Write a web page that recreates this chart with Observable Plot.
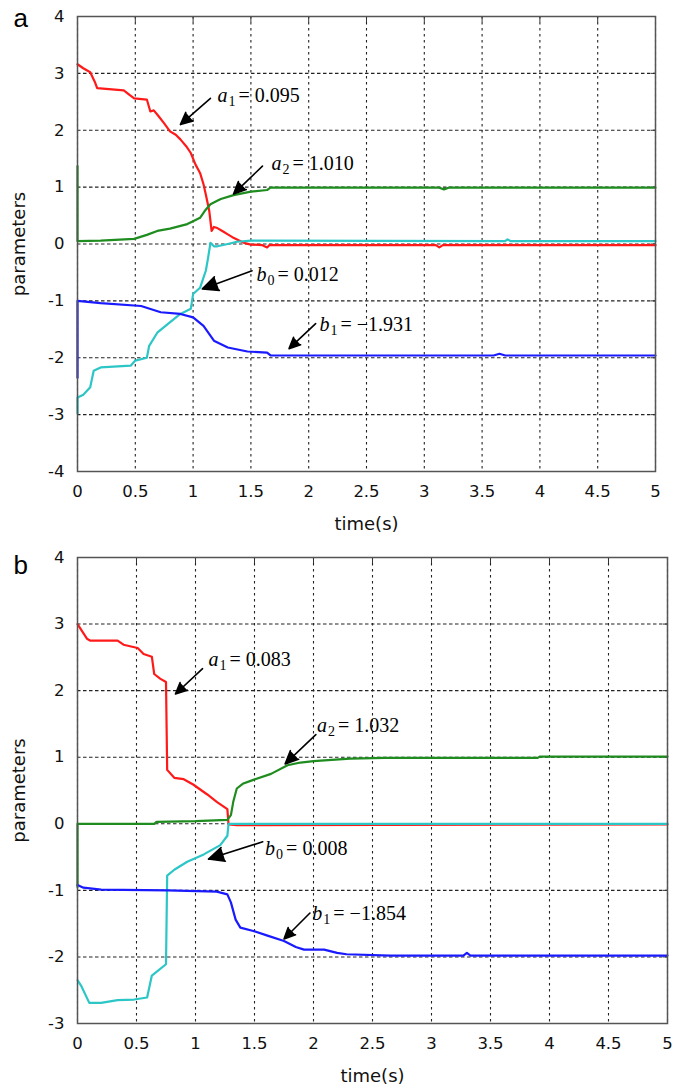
<!DOCTYPE html>
<html>
<head>
<meta charset="utf-8">
<script src="https://cdn.jsdelivr.net/npm/d3@7"></script>
<script src="https://cdn.jsdelivr.net/npm/@observablehq/plot@0.6"></script>
<style>
  html, body { margin: 0; padding: 0; background: #fff; }
  #wrap { position: relative; width: 674px; height: 1091px; }
  #pa { position: absolute; left: 0; top: 0; }
  #pb { position: absolute; left: 0; top: 540px; }
  svg { overflow: visible; }
  g[aria-label="x-axis label"] text, g[aria-label="y-axis label"] text { font-size: 18px; }
  g[aria-label="x-axis tick label"] text, g[aria-label="y-axis tick label"] text { font-size: 16.5px; }
</style>
</head>
<body>
<div id="wrap"><div id="pa"></div><div id="pb"></div></div>
<script>
// ---------- shared ----------
const seriesNames = ["a1", "a2", "b0", "b1"];
const seriesColors = ["#ff1a1a", "#1e8c1e", "#2cc6c6", "#1a1aff"];
const xTicks = [0, 0.5, 1, 1.5, 2, 2.5, 3, 3.5, 4, 4.5, 5];
const yTicksA = [-4, -3, -2, -1, 0, 1, 2, 3, 4];
const yTicksB = [-3, -2, -1, 0, 1, 2, 3, 4];
const xLabel = "time(s)";
const yLabel = "parameters";

// ---------- panel a data ----------
const aT_a1 = [0, 0.05, 0.11, 0.15, 0.17, 0.40, 0.45, 0.49, 0.60, 0.63, 0.66, 0.70, 0.75, 0.80, 0.85, 0.89, 0.94, 0.98, 1.02, 1.06, 1.09, 1.11, 1.14, 1.16, 1.18, 1.21, 1.26, 1.30, 1.34, 1.38, 1.44, 1.50, 1.60, 1.64, 1.66, 1.70, 3.10, 3.13, 3.16, 5.0];
const aV_a1 = [3.16, 3.09, 3.02, 2.85, 2.74, 2.70, 2.62, 2.56, 2.54, 2.33, 2.35, 2.25, 2.12, 1.98, 1.92, 1.84, 1.72, 1.60, 1.40, 1.25, 1.05, 0.87, 0.58, 0.23, 0.30, 0.28, 0.22, 0.17, 0.12, 0.08, 0.02, -0.01, -0.02, -0.06, -0.02, -0.02, -0.02, -0.06, -0.02, -0.02];
const aT_a2 = [0, 0, 0.2, 0.49, 0.6, 0.69, 0.8, 0.95, 1.0, 1.06, 1.10, 1.15, 1.2, 1.24, 1.35, 1.5, 1.64, 1.67, 3.13, 3.17, 3.21, 5];
const aV_a2 = [1.37, 0.05, 0.06, 0.09, 0.16, 0.23, 0.27, 0.35, 0.40, 0.46, 0.58, 0.70, 0.75, 0.79, 0.86, 0.92, 0.95, 0.99, 0.99, 0.96, 0.99, 0.99];
const aT_b0 = [0, 0, 0.05, 0.11, 0.14, 0.2, 0.46, 0.5, 0.6, 0.62, 0.69, 0.78, 0.89, 0.98, 1.0, 1.06, 1.11, 1.13, 1.15, 1.18, 1.21, 1.3, 1.38, 1.5, 3.7, 3.72, 3.75, 5];
const aV_b0 = [-2.98, -2.70, -2.65, -2.52, -2.23, -2.17, -2.14, -2.05, -2.0, -1.79, -1.56, -1.41, -1.23, -1.14, -0.88, -0.77, -0.47, -0.24, 0.02, -0.04, -0.04, 0.0, 0.04, 0.06, 0.05, 0.08, 0.05, 0.05];
const aT_b1 = [0, 0, 0.2, 0.55, 0.72, 0.89, 1.0, 1.09, 1.18, 1.3, 1.47, 1.64, 1.67, 3.6, 3.65, 3.7, 5];
const aV_b1 = [-2.35, -1.0, -1.04, -1.09, -1.2, -1.23, -1.29, -1.44, -1.70, -1.82, -1.89, -1.91, -1.96, -1.96, -1.93, -1.96, -1.96];

// panel a annotations
const annA_sym = ["a", "a", "b", "b"];
const annA_sub = ["1", "2", "0", "1"];
const annA_val = ["= 0.095", "= 1.010", "= 0.012", "= \u22121.931"];
const annA_tx = [1.211, 1.678, 1.548, 2.093];
const annA_ty = [2.50, 1.30, -0.65, -1.53];
const arrA_x1 = [1.15, 1.60, 1.51, 2.06];
const arrA_y1 = [2.56, 1.37, -0.47, -1.40];
const arrA_x2 = [0.89, 1.35, 1.08, 1.83];
const arrA_y2 = [2.10, 0.88, -0.79, -1.84];

// ---------- panel b data ----------
const bT_a1 = [0, 0.08, 0.11, 0.34, 0.39, 0.51, 0.56, 0.63, 0.65, 0.70, 0.75, 0.76, 0.82, 0.90, 0.98, 1.10, 1.18, 1.27, 1.28, 1.35, 5];
const bV_a1 = [3.0, 2.78, 2.75, 2.75, 2.69, 2.64, 2.55, 2.51, 2.25, 2.18, 2.13, 0.81, 0.69, 0.67, 0.59, 0.44, 0.33, 0.22, -0.01, -0.02, -0.01];
const bT_a2 = [0, 0, 0.65, 0.67, 1.0, 1.27, 1.30, 1.32, 1.35, 1.40, 1.49, 1.64, 1.78, 1.89, 2.0, 2.31, 2.6, 3.9, 3.92, 5];
const bV_a2 = [-0.95, 0.0, 0.0, 0.03, 0.04, 0.06, 0.13, 0.33, 0.53, 0.60, 0.66, 0.75, 0.88, 0.92, 0.94, 0.98, 0.99, 0.99, 1.01, 1.01];
const bT_b0 = [0, 0.03, 0.1, 0.2, 0.34, 0.48, 0.59, 0.63, 0.68, 0.75, 0.76, 0.82, 0.93, 1.07, 1.21, 1.27, 1.28, 5];
const bV_b0 = [-2.35, -2.43, -2.69, -2.69, -2.65, -2.64, -2.61, -2.28, -2.21, -2.11, -0.78, -0.69, -0.57, -0.46, -0.32, -0.18, 0.0, 0.0];
const bT_b1 = [0, 0.05, 0.2, 0.76, 1.18, 1.27, 1.3, 1.34, 1.38, 1.49, 1.61, 1.75, 1.85, 1.92, 2.09, 2.2, 2.28, 2.65, 3.27, 3.3, 3.33, 5];
const bV_b1 = [-0.92, -0.96, -0.99, -1.0, -1.02, -1.06, -1.18, -1.44, -1.56, -1.61, -1.68, -1.76, -1.85, -1.89, -1.89, -1.94, -1.96, -1.98, -1.98, -1.94, -1.98, -1.98];

// panel b annotations
const annB_sym = ["a", "a", "b", "b"];
const annB_sub = ["1", "2", "0", "1"];
const annB_val = ["= 0.083", "= 1.032", "= 0.008", "= \u22121.854"];
const annB_tx = [1.11, 2.03, 1.59, 1.99];
const annB_ty = [2.37, 1.38, -0.47, -1.44];
const arrB_x1 = [1.06, 2.02, 1.57, 1.97];
const arrB_y1 = [2.33, 1.34, -0.27, -1.34];
const arrB_x2 = [0.83, 1.76, 1.11, 1.75];
const arrB_y2 = [1.95, 0.90, -0.53, -1.73];

// ---------- builders ----------
function rows(t, v, s) { return t.map((x, i) => ({t: x, v: v[i], s})); }

const sans = "DejaVu Sans";
const serif = "Liberation Serif";

function panel({lines, yDomain, yTicks, mt, mb, mr, height, letter, letterDy, sym, sub, val, tx, ty, x1, y1, x2, y2}) {
  const idx = sym.map((_, i) => i);
  return Plot.plot({
    width: 674,
    height,
    marginLeft: 77,
    marginRight: mr,
    marginTop: mt,
    marginBottom: mb,
    style: {fontFamily: sans, fontSize: "16px", color: "#111", background: "#fff"},
    x: {domain: [0, 5]},
    y: {domain: yDomain},
    color: {domain: seriesNames, range: seriesColors},
    marks: [
      Plot.gridX(xTicks, {stroke: "#222", strokeOpacity: 1, strokeDasharray: "2.5,3.5", strokeWidth: 1.1}),
      Plot.gridY(yTicks, {stroke: "#222", strokeOpacity: 1, strokeDasharray: "3.5,2.5", strokeWidth: 1.1}),
      Plot.axisX(xTicks, {anchor: "bottom", tickSize: 0, tickPadding: 14, tickFormat: d => String(d), fontSize: 16.5,
        label: xLabel, labelAnchor: "center", labelArrow: "none", labelOffset: 58.5}),
      Plot.axisX(xTicks, {anchor: "top", tickSize: -5, tickFormat: () => "", label: null, stroke: "#333"}),
      Plot.axisY(yTicks, {anchor: "left", tickSize: 0, tickPadding: 13, tickFormat: d => String(d), fontSize: 16.5,
        label: yLabel, labelAnchor: "center", labelArrow: "none", labelOffset: 65}),
      Plot.axisY(yTicks, {anchor: "right", tickSize: -5, tickFormat: () => "", label: null, stroke: "#333"}),
      Plot.line(lines, {x: "t", y: "v", z: "s", stroke: "s", strokeWidth: 2.2, curve: "linear"}),
      Plot.frame({stroke: "#555", strokeWidth: 1.5}),
      Plot.arrow(idx, {x1: i => x1[i], y1: i => y1[i], x2: i => x2[i], y2: i => y2[i],
        stroke: "#000", fill: "#000", strokeWidth: 1.6, headLength: 16, headAngle: 50}),
      Plot.text(idx, {x: i => tx[i], y: i => ty[i], text: i => sym[i], textAnchor: "start", lineAnchor: "bottom",
        fontFamily: serif, fontStyle: "italic", fontSize: 20, fill: "#000"}),
      Plot.text(idx, {x: i => tx[i], y: i => ty[i], text: i => sub[i], textAnchor: "start", lineAnchor: "bottom",
        fontFamily: serif, fontSize: 14, dx: 11, dy: 4, fill: "#000"}),
      Plot.text(idx, {x: i => tx[i], y: i => ty[i], text: i => val[i], textAnchor: "start", lineAnchor: "bottom",
        fontFamily: serif, fontSize: 20, dx: 21, fill: "#000"}),
      Plot.text([letter], {frameAnchor: "top-left", text: d => d, textAnchor: "start", lineAnchor: "bottom",
        dx: -64, dy: letterDy, fontFamily: "Liberation Sans", fontSize: 26, fill: "#000"})
    ]
  });
}

const linesA = [
  ...rows(aT_a1, aV_a1, "a1"), ...rows(aT_a2, aV_a2, "a2"),
  ...rows(aT_b0, aV_b0, "b0"), ...rows(aT_b1, aV_b1, "b1")
];
const linesB = [
  ...rows(bT_a1, bV_a1, "a1"), ...rows(bT_a2, bV_a2, "a2"),
  ...rows(bT_b0, bV_b0, "b0"), ...rows(bT_b1, bV_b1, "b1")
];

document.getElementById("pa").append(panel({
  lines: linesA, yDomain: [-4, 4], yTicks: yTicksA, mt: 16, mb: 69, mr: 19, height: 540,
  letter: "a", letterDy: 10,
  sym: annA_sym, sub: annA_sub, val: annA_val, tx: annA_tx, ty: annA_ty,
  x1: arrA_x1, y1: arrA_y1, x2: arrA_x2, y2: arrA_y2
}));
document.getElementById("pb").append(panel({
  lines: linesB, yDomain: [-3, 4], yTicks: yTicksB, mt: 17, mb: 68, mr: 7, height: 551,
  letter: "b", letterDy: 16,
  sym: annB_sym, sub: annB_sub, val: annB_val, tx: annB_tx, ty: annB_ty,
  x1: arrB_x1, y1: arrB_y1, x2: arrB_x2, y2: arrB_y2
}));
</script>
</body>
</html>
